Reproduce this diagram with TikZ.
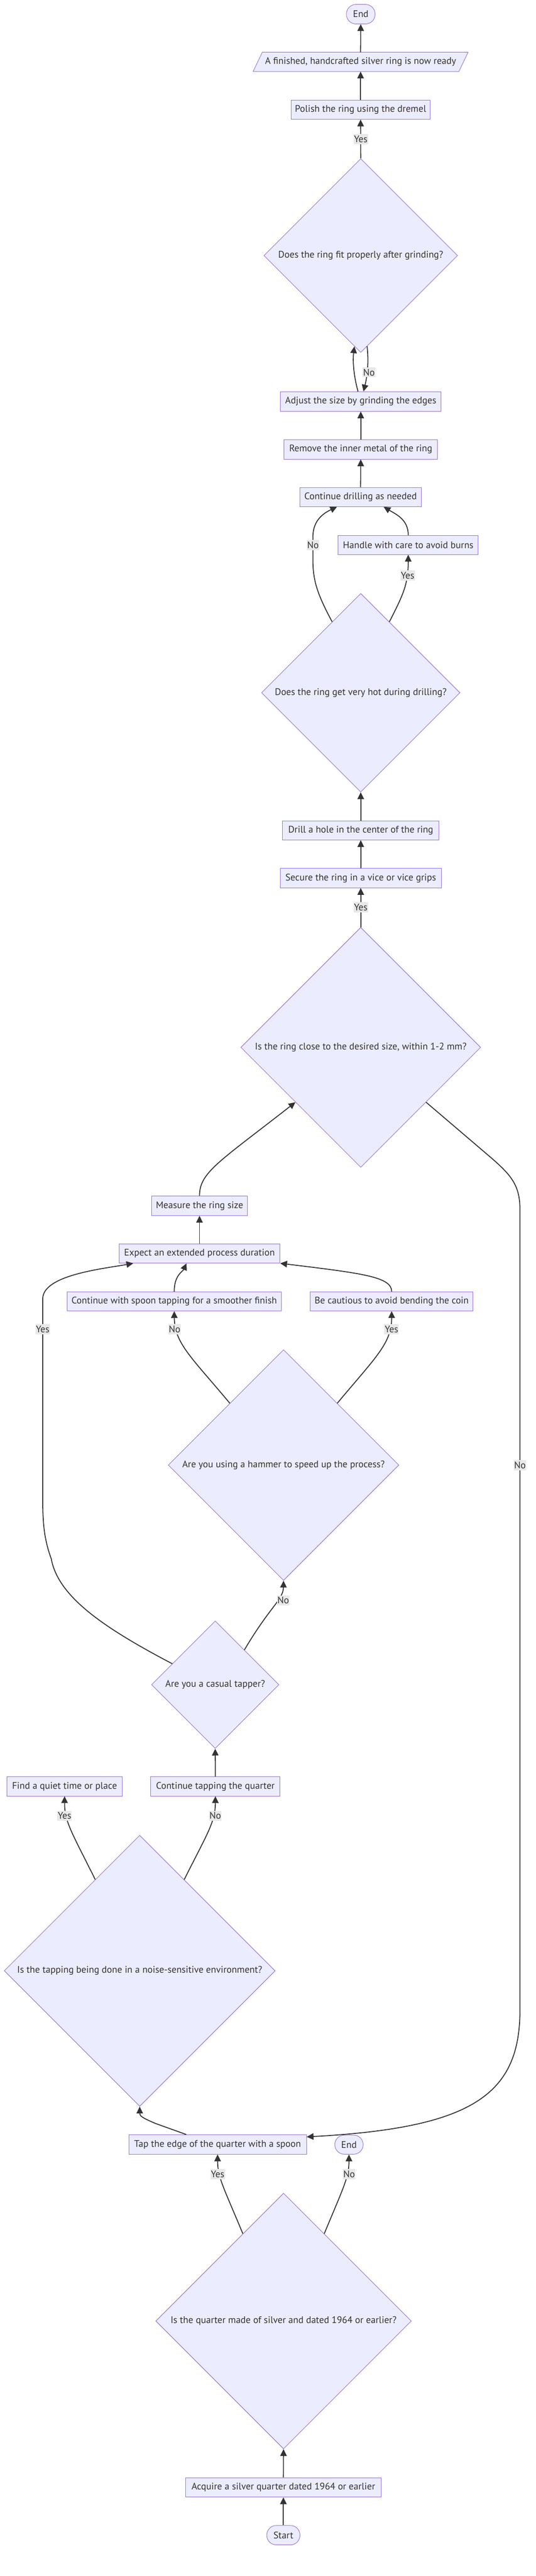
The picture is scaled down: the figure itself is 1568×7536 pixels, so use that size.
\documentclass[tikz,border=0pt]{standalone}
\usepackage{fontspec}
\setmainfont{PT Sans}
\usetikzlibrary{shapes.geometric,arrows.meta,calc,backgrounds}
\definecolor{nfill}{HTML}{ECECFF}
\definecolor{nline}{HTML}{9370DB}
\definecolor{ink}{HTML}{333333}
\definecolor{lblbg}{HTML}{E8E8E8}
\begin{document}
\begin{tikzpicture}[x=1pt,y=-1pt,
  base/.style={font=\fontsize{28}{33}\selectfont, text=ink},
  box/.style={base, rectangle, draw=nline, fill=nfill, line width=1.4pt, inner sep=0pt},
  term/.style={box, rounded corners=28pt},
  dia/.style={diamond, aspect=1, draw=nline, fill=nfill, line width=1.4pt, inner sep=0pt},
  txt/.style={base, inner sep=0pt},
  lbl/.style={base, fill=lblbg, inner xsep=1.5pt, inner ysep=0pt, minimum height=30pt},
  conn/.style={draw=ink, line width=2.7pt, -{Triangle[length=20pt,width=19pt]}},
]
\begin{pgfonlayer}{background}
\fill[white] (0,0) rectangle (1568,7536);
\end{pgfonlayer}
\useasboundingbox (0,0) rectangle (1568,7536);

% ---------- nodes ----------
\node[term, minimum width=84pt, minimum height=57pt] (endT) at (1056,41.5) {End};
\node[txt, minimum width=629pt, minimum height=56pt] (fin) at (1055.5,181) {A finished, handcrafted silver ring is now ready};
\begin{pgfonlayer}{background}
\draw[draw=nline, fill=nfill, line width=1.4pt] ($(fin.north west)+(27,0)$) -- (fin.north east) -- ($(fin.south east)+(-27,0)$) -- (fin.south west) -- cycle;
\end{pgfonlayer}
\node[box, minimum width=407pt, minimum height=56pt] (polish) at (1055.5,321) {Polish the ring using the dremel};
\node[dia, minimum width=567pt, minimum height=567pt] (d1) at (1056,747.5) {};
\node[txt] (d1t) at (d1.center) {Does the ring fit properly after grinding?};
\node[box, minimum width=470pt, minimum height=57pt] (adjust) at (1056,1174.5) {Adjust the size by grinding the edges};
\node[box, minimum width=450pt, minimum height=57pt] (remove) at (1056,1314.5) {Remove the inner metal of the ring};
\node[box, minimum width=355pt, minimum height=56pt] (cont) at (1055.5,1454) {Continue drilling as needed};
\node[box, minimum width=410pt, minimum height=56pt] (handle) at (1195,1594) {Handle with care to avoid burns};
\node[dia, minimum width=581pt, minimum height=581pt] (d2) at (1056,2026.5) {};
\node[txt] (d2t) at (d2.center) {Does the ring get very hot during drilling?};
\node[box, minimum width=458pt, minimum height=56pt] (drill) at (1056,2429) {Drill a hole in the center of the ring};
\node[box, minimum width=472pt, minimum height=56pt] (secure) at (1056,2569) {Secure the ring in a vice or vice grips};
\node[dia, minimum width=702pt, minimum height=702pt] (d3) at (1056,3064) {};
\node[txt] (d3t) at (d3.center) {Is the ring close to the desired size, within 1-2 mm?};
\node[box, minimum width=279pt, minimum height=57pt] (measure) at (584,3527.5) {Measure the ring size};
\node[box, minimum width=471pt, minimum height=56pt] (expect) at (584,3667) {Expect an extended process duration};
\node[box, minimum width=628pt, minimum height=56pt] (spoon) at (510,3807) {Continue with spoon tapping for a smoother finish};
\node[box, minimum width=477pt, minimum height=56pt] (cautious) at (1146.5,3807) {Be cautious to avoid bending the coin};
\node[dia, minimum width=675pt, minimum height=675pt] (d4) at (830,4286) {};
\node[txt] (d4t) at (d4.center) {Are you using a hammer to speed up the process?};
\node[dia, minimum width=373pt, minimum height=373pt] (d5) at (630,4928.5) {};
\node[txt] (d5t) at (d5.center) {Are you a casual tapper?};
\node[box, minimum width=338pt, minimum height=56pt] (quiet) at (189,5226) {Find a quiet time or place};
\node[box, minimum width=378pt, minimum height=56pt] (tapping) at (630.5,5226) {Continue tapping the quarter};
\node[dia, minimum width=793pt, minimum height=793pt] (d6) at (409,5765.5) {};
\node[txt] (d6t) at (d6.center) {Is the tapping being done in a noise-sensitive environment?};
\node[box, minimum width=520pt, minimum height=57pt] (tap) at (637,6273.5) {Tap the edge of the quarter with a spoon};
\node[term, minimum width=83pt, minimum height=56pt] (endB) at (1021.5,6274) {End};
\node[dia, minimum width=748pt, minimum height=748pt] (d7) at (830,6790) {};
\node[txt] (d7t) at (d7.center) {Is the quarter made of silver and dated 1964 or earlier?};
\node[box, minimum width=573pt, minimum height=57pt] (acquire) at (829.5,7276.5) {Acquire a silver quarter dated 1964 or earlier};
\node[term, minimum width=97pt, minimum height=57pt] (start) at (829.5,7416.5) {Start};

% ---------- connectors ----------
\draw[conn] (start.north) -- (acquire.south);
\draw[conn] (acquire.north) -- (d7.south);
\draw[conn] (d7.115) .. controls (655,6400) and (637,6370) .. (tap.south);
\draw[conn] (d7.65) .. controls (1005,6400) and (1021.5,6370) .. (endB.south);
\draw[conn] ($(tap.north)+(-92,0)$) -- (455,6212) .. controls (415,6195) and (409,6190) .. (d6.south);
\draw[conn] (d6.116) .. controls (210,5360) and (189,5330) .. (quiet.south);
\draw[conn] (d6.64) .. controls (609,5360) and (630,5330) .. (tapping.south);
\draw[conn] (tapping.north) -- (d5.south);
\draw[conn] (d5.50) .. controls (790,4700) and (829,4680) .. (d4.south);
\draw[conn] (d5.154) .. controls (300,4760) and (170,4670) .. (150,4560) .. controls (128,4500) and (125,4450) .. (125,4380) -- (125,3800) .. controls (125,3730) and (300,3712) .. ($(expect.south)+(-194,0)$);
\draw[conn] (d4.131) .. controls (560,3970) and (511,3930) .. (spoon.south);
\draw[conn] (d4.49) .. controls (1100,3970) and (1146.5,3930) .. (cautious.south);
\draw[conn] (spoon.north) .. controls (510,3730) and (535,3720) .. ($(expect.south)+(-38,0)$);
\draw[conn] (cautious.north) .. controls (1146.5,3735) and (1060,3725) .. (expect.south east);
\draw[conn] (expect.north) -- (measure.south);
\draw[conn] (measure.north) .. controls (584,3430) and (640,3400) .. (d3.220);
\draw[conn] (d3.-40) -- (1433,3383) .. controls (1500,3440) and (1522,3470) .. (1522,3540) -- (1522,5880) .. controls (1522,6130) and (1380,6225) .. ($(tap.north east)+(0,7)$);
\draw[conn] (d3.north) -- (secure.south);
\draw[conn] (secure.north) -- (drill.south);
\draw[conn] (drill.north) -- (d2.south);
\draw[conn] (d2.112) .. controls (930,1740) and (916,1700) .. (916,1640) -- (916,1570) .. controls (916,1520) and (950,1500) .. ($(cont.south)+(-69,0)$);
\draw[conn] (d2.68) .. controls (1180,1740) and (1195,1710) .. (handle.south);
\draw[conn] (handle.north) .. controls (1195,1520) and (1160,1505) .. ($(cont.south)+(67.5,0)$);
\draw[conn] (cont.north) -- (remove.south);
\draw[conn] (remove.north) -- (adjust.south);
\draw[conn] ($(adjust.north)+(-8,0)$) .. controls (1033,1090) and (1033,1050) .. (d1.266);
\draw[conn] (d1.274) .. controls (1080,1060) and (1075,1100) .. ($(adjust.north)+(8,0)$);
\draw[conn] (d1.north) -- (polish.south);
\draw[conn] (polish.north) -- (fin.south);
\draw[conn] (fin.north) -- (endT.south);

% ---------- edge labels ----------
\node[lbl] (l1) at (1056,407) {Yes};
\node[lbl] (l2) at (1080,1089) {No};
\node[lbl] (l3) at (916,1595) {No};
\node[lbl] (l4) at (1193,1683) {Yes};
\node[lbl] (l5) at (1056,2654) {Yes};
\node[lbl] (l6) at (1522,4286) {No};
\node[lbl] (l7) at (125,3888) {Yes};
\node[lbl] (l8) at (511,3888) {No};
\node[lbl] (l9) at (1146,3888) {Yes};
\node[lbl] (l10) at (829,4682) {No};
\node[lbl] (l11) at (189,5312) {Yes};
\node[lbl] (l12) at (630,5312) {No};
\node[lbl] (l13) at (637,6360) {Yes};
\node[lbl] (l14) at (1022,6360) {No};
\end{tikzpicture}
\end{document}
